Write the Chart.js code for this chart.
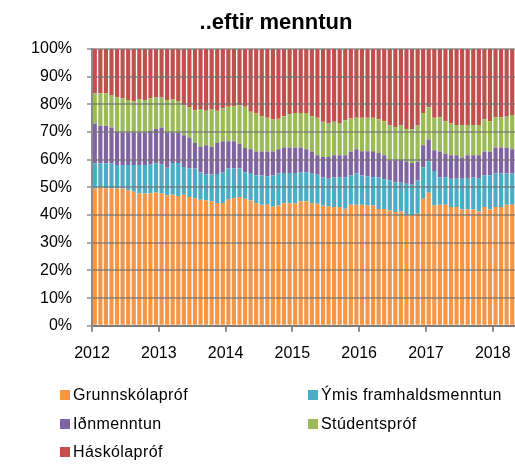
<!DOCTYPE html>
<html lang="is">
<head>
<meta charset="utf-8">
<title>..eftir menntun</title>
<script src="https://cdn.jsdelivr.net/npm/chart.js@4.4.1/dist/chart.umd.min.js"></script>
<style>
  body { margin: 0; background: #fff; font-family: "Liberation Sans", Arial, sans-serif; }
  #wrap { position: relative; width: 515px; height: 465px; overflow: hidden; }
  #chart { position: absolute; left: 0; top: 0; }
  #title {
    position: absolute; left: 37px; top: 9px; width: 478px;
    text-align: center; font-weight: bold; font-size: 22px; line-height: 26px; color: #000;
  }
  #legend {
    position: absolute; left: 60px; top: 381px;
    display: grid; grid-template-columns: 248px auto; grid-auto-rows: 28.5px;
    font-size: 16px; letter-spacing: 0.4px; color: #000;
  }
  .item { display: flex; align-items: center; white-space: nowrap; }
  .box { width: 10px; height: 10px; margin-right: 3px; flex: none; }
</style>
</head>
<body>
<div id="wrap">
  <canvas id="chart" width="515" height="465"></canvas>
  <div id="title">..eftir menntun</div>
  <div id="legend"></div>
</div>
<script>
// --- Gögn: mánaðarleg hlutföll (%) eftir menntun, jan 2012 - apr 2018 ---
const years = [2012, 2013, 2014, 2015, 2016, 2017, 2018];
const monthNames = ['jan', 'feb', 'mar', 'apr', 'maí', 'jún', 'júl', 'ágú', 'sep', 'okt', 'nóv', 'des'];
const yearLabels = ['2012', '2013', '2014', '2015', '2016', '2017', '2018'];

const grunnskolaprof = [
  49.6, 50.1, 49.6, 49.6, 49.6, 49.6, 49.0, 48.4, 47.8, 47.8, 47.8, 48.2,
  47.8, 47.2, 47.3, 46.9, 47.3, 46.5, 46.1, 45.5, 45.3, 44.9, 44.4, 44.4,
  45.5, 46.1, 46.5, 45.9, 45.3, 44.3, 43.7, 43.7, 43.1, 43.5, 44.3, 44.3,
  44.3, 45.0, 45.0, 44.3, 44.1, 43.5, 43.1, 42.9, 42.9, 42.3, 43.7, 43.7,
  43.7, 43.5, 43.5, 42.2, 42.2, 41.7, 41.1, 41.4, 39.9, 39.9, 40.5, 45.9,
  48.1, 43.5, 43.7, 43.7, 42.9, 42.9, 42.0, 42.0, 42.0, 41.3, 42.9, 42.0,
  42.9, 42.9, 43.7, 43.7
];
const ymisFramhalds = [
  9.1, 8.6, 9.1, 9.1, 8.5, 8.5, 9.1, 9.7, 10.3, 10.3, 10.5, 10.5,
  10.5, 9.9, 11.5, 11.9, 10.1, 10.3, 10.7, 10.0, 9.4, 9.8, 10.4, 11.1,
  11.3, 10.7, 10.3, 9.6, 9.9, 10.0, 10.6, 10.3, 11.2, 11.5, 10.9, 10.9,
  10.9, 10.5, 10.5, 10.9, 10.5, 10.2, 10.0, 10.8, 10.8, 11.4, 10.6, 11.3,
  10.6, 10.5, 10.2, 11.5, 10.7, 10.8, 10.8, 10.3, 11.4, 11.1, 12.0, 11.4,
  11.3, 12.4, 10.0, 10.0, 10.2, 10.2, 11.1, 11.1, 11.7, 11.8, 11.5, 12.4,
  12.1, 12.1, 11.3, 11.3
];
const idnmenntun = [
  14.4, 13.6, 13.6, 12.9, 12.0, 11.7, 11.7, 11.7, 11.7, 11.7, 12.1, 12.4,
  13.3, 12.7, 10.9, 10.9, 11.4, 11.2, 9.2, 9.1, 10.5, 9.9, 11.2, 11.2,
  9.9, 9.9, 9.0, 8.7, 8.6, 8.7, 8.7, 9.0, 8.7, 8.8, 9.2, 9.2,
  9.2, 8.9, 8.3, 7.8, 7.0, 7.3, 7.9, 7.9, 7.9, 7.9, 8.7, 8.8,
  8.8, 9.1, 9.4, 8.7, 8.7, 7.3, 7.9, 8.1, 8.1, 7.8, 6.9, 7.9,
  7.9, 7.5, 9.3, 8.5, 8.5, 8.5, 7.6, 8.5, 7.9, 8.5, 8.6, 8.6,
  9.4, 9.4, 9.4, 8.8
];
const studentsprof = [
  10.9, 11.7, 11.7, 11.8, 12.4, 12.4, 11.8, 11.4, 12.1, 11.8, 11.8, 11.4,
  10.9, 11.8, 12.1, 11.5, 10.9, 10.9, 11.9, 13.7, 12.5, 13.7, 11.7, 11.9,
  12.4, 12.6, 13.9, 14.9, 13.5, 13.7, 12.7, 12.2, 11.5, 11.0, 11.3, 12.0,
  12.5, 12.5, 13.1, 12.7, 13.6, 12.7, 12.1, 12.1, 11.7, 12.7, 11.9, 11.4,
  12.1, 12.1, 12.1, 12.2, 12.3, 12.6, 12.0, 12.6, 11.6, 12.2, 13.0, 11.7,
  11.7, 11.8, 12.3, 11.7, 11.5, 10.9, 11.8, 10.9, 10.9, 10.9, 11.6, 10.9,
  10.9, 10.9, 11.4, 12.4
];
const haskolaprof = [
  16.0, 16.0, 16.0, 16.6, 17.5, 17.8, 18.4, 18.8, 18.1, 18.4, 17.8, 17.5,
  17.5, 18.4, 18.2, 18.8, 20.3, 21.1, 22.1, 21.7, 22.3, 21.7, 22.3, 21.4,
  20.9, 20.7, 20.3, 20.9, 22.7, 23.3, 24.3, 24.8, 25.5, 25.2, 24.3, 23.6,
  23.1, 23.1, 23.1, 24.3, 24.8, 26.3, 26.9, 26.3, 26.7, 25.7, 25.1, 24.8,
  24.8, 24.8, 24.8, 25.4, 26.1, 27.6, 28.2, 27.6, 29.0, 29.0, 27.6, 23.1,
  21.0, 24.8, 24.7, 26.1, 26.9, 27.5, 27.5, 27.5, 27.5, 27.5, 25.4, 26.1,
  24.7, 24.7, 24.2, 23.8
];

// --- Flokkar (mánuðir) ---
const months = [];
years.forEach(y => monthNames.forEach(m => months.push(m + ' ' + y)));
months.length = grunnskolaprof.length; // gögn ná til apríl 2018

const series = [
  { label: 'Grunnskólapróf', data: grunnskolaprof, color: '#F79646' },
  { label: 'Ýmis framhaldsmenntun', data: ymisFramhalds, color: '#4BACC6' },
  { label: 'Iðnmenntun', data: idnmenntun, color: '#8064A2' },
  { label: 'Stúdentspróf', data: studentsprof, color: '#9BBB59' },
  { label: 'Háskólapróf', data: haskolaprof, color: '#C0504D' }
];

// staðsetning hvers árs á x-ás (janúar hvers árs)
const yearTickPos = yearLabels.map(y => months.indexOf('jan ' + y));

const FONT = '"Liberation Sans", Arial, sans-serif';
const GRID = 'rgba(115, 115, 115, 0.6)';
const AXIS = '#8c8c8c';

const ctx = document.getElementById('chart').getContext('2d');
const myChart = new Chart(ctx, {
  type: 'bar',
  data: {
    datasets: series.map(s => ({
      label: s.label,
      data: s.data.map((v, i) => ({ x: i + 0.5, y: v })),
      backgroundColor: s.color,
      borderWidth: 0,
      barPercentage: 0.75,
      categoryPercentage: 1
    }))
  },
  options: {
    responsive: false,
    animation: false,
    devicePixelRatio: 1,
    layout: { padding: { top: 49, left: 0, right: 0, bottom: 90 } },
    plugins: {
      legend: { display: false },
      title: { display: false },
      tooltip: {
        callbacks: {
          title: items => months[Math.floor(items[0].parsed.x)],
          label: c => c.dataset.label + ': ' + c.parsed.y.toFixed(1) + '%'
        }
      }
    },
    scales: {
      x: {
        type: 'linear',
        stacked: true,
        offset: false,
        min: 0,
        max: months.length,
        afterBuildTicks: scale => {
          scale.ticks = yearTickPos.map(v => ({ value: v }));
        },
        // láta súlurnar ná alveg út að hægri brún
        afterFit: scale => { scale.paddingRight = 0; },
        ticks: {
          autoSkip: false,
          maxRotation: 0,
          padding: 12,
          color: '#000',
          font: { family: FONT, size: 16 },
          callback: value => yearLabels[yearTickPos.indexOf(value)]
        },
        grid: {
          offset: false,
          drawOnChartArea: false,
          drawTicks: true,
          tickLength: 6,
          color: AXIS,
          lineWidth: 2
        },
        border: { color: AXIS, width: 2, z: 1 }
      },
      y: {
        stacked: true,
        min: 0,
        max: 100,
        afterFit: scale => { scale.width = 92; },
        ticks: {
          stepSize: 10,
          padding: 15,
          color: '#000',
          font: { family: FONT, size: 16 },
          callback: value => value + '%'
        },
        grid: {
          color: GRID,
          lineWidth: 2,
          tickLength: 5,
          z: 1
        },
        border: { color: AXIS, width: 2, z: 1 }
      }
    }
  }
});

// --- Skýringar (legend) ---
const legendEl = document.getElementById('legend');
series.forEach(s => {
  const item = document.createElement('div');
  item.className = 'item';
  const box = document.createElement('span');
  box.className = 'box';
  box.style.background = s.color;
  const text = document.createElement('span');
  text.textContent = s.label;
  item.appendChild(box);
  item.appendChild(text);
  legendEl.appendChild(item);
});
</script>
</body>
</html>
